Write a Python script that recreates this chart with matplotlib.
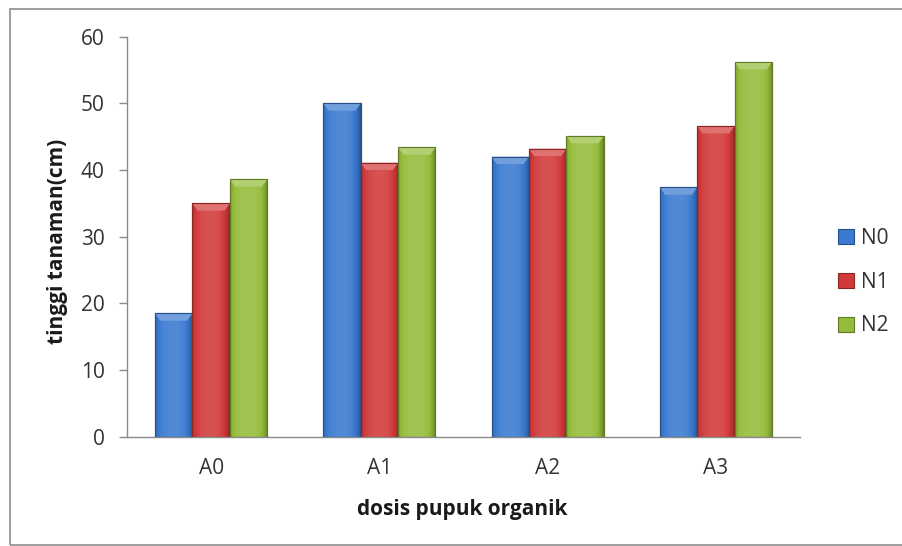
import numpy as np
import matplotlib
matplotlib.use("Agg")
import matplotlib.pyplot as plt
from matplotlib.patches import Rectangle, Polygon
from matplotlib.colors import to_rgb

categories = ["A0", "A1", "A2", "A3"]
series_names = ["N0", "N1", "N2"]
N0 = [18.5, 50.0, 42.0, 37.4]
N1 = [35.0, 41.1, 43.2, 46.6]
N2 = [38.6, 43.4, 45.1, 56.2]
yticks = [0, 10, 20, 30, 40, 50, 60]
ylabel = "tinggi tanaman(cm)"
xlabel = "dosis pupuk organik"

colors = ["#3A7AD0", "#D23A3A", "#94BC3A"]

plt.rcParams['font.family'] = ['Open Sans', 'DejaVu Sans']

fig = plt.figure(figsize=(9.02, 5.46), dpi=100)
ax = fig.add_axes([127/902, 1-436.7/546, (800-127)/902, 400/546])

x = np.arange(len(categories))
nser = 3
bw = 1.0 / (nser + 1.5)
data = [N0, N1, N2]

def shade(c, f):
    r = np.array(to_rgb(c))
    if f >= 0:
        return tuple(r + (1 - r) * f)
    return tuple(r * (1 + f))

for i, (vals, col) in enumerate(zip(data, colors)):
    offs = (i - (nser - 1) / 2) * bw
    bars = ax.bar(x + offs, vals, width=bw, color=col, edgecolor=shade(col, -0.35),
                  linewidth=0.8, label=series_names[i], zorder=2)
    n = 64
    t = np.linspace(0, 1, n)
    prof = 0.12 * np.sin(np.pi * t) ** 0.7 - 0.22 * (np.abs(t - 0.45) * 2) ** 4
    img = np.zeros((1, n, 3))
    for k, p in enumerate(prof):
        img[0, k] = shade(col, p)
    for b in bars:
        x0, w, h = b.get_x(), b.get_width(), b.get_height()
        im = ax.imshow(img, extent=[x0, x0 + w, 0, h], aspect='auto',
                       interpolation='bicubic', zorder=2.5)
        im.set_clip_path(b)
        d = w * 0.14
        tt = 1.1
        poly = Polygon([[x0, h], [x0 + w, h], [x0 + w - d, h - tt], [x0 + d, h - tt]],
                       closed=True, facecolor=shade(col, 0.28), edgecolor='none',
                       zorder=3)
        ax.add_patch(poly)
        ax.add_patch(Rectangle((x0, 0), w, h, fill=False,
                               edgecolor=shade(col, -0.35), linewidth=0.8, zorder=3.5))

ax.set_xlim(-0.5, len(categories) - 0.5)
ax.set_ylim(0, 60)
ax.set_yticks(yticks)
ax.set_yticklabels([str(v) for v in yticks], fontsize=15, color='#333333')
ax.set_xticks(x)
ax.set_xticklabels(categories, fontsize=15, color='#333333')
ax.tick_params(axis='x', length=0, pad=15)
ax.tick_params(axis='y', length=6, color='#8a8a8a', width=1, pad=10)
for s in ['top', 'right']:
    ax.spines[s].set_visible(False)
for s in ['left', 'bottom']:
    ax.spines[s].set_color('#8a8a8a')
    ax.spines[s].set_linewidth(1)

fig.text(58/902, 1-241/546, ylabel, rotation=90, fontsize=15, fontweight='bold',
         ha='center', va='center', color='#1a1a1a')
fig.text(462/902, 1-509/546, xlabel, fontsize=15, fontweight='bold',
         ha='center', va='center', color='#1a1a1a')

leg = ax.legend(loc='center left', bbox_to_anchor=(838/902, 1-282/546),
                bbox_transform=fig.transFigure, frameon=False, fontsize=15,
                handlelength=0.75, handleheight=0.75, handletextpad=0.35,
                labelspacing=1.1, borderaxespad=0, borderpad=0)
for t in leg.get_texts():
    t.set_color('#333333')

fig.patches.append(Rectangle((10/902, 1-545/546), 1.0, 536/546, transform=fig.transFigure,
                             fill=False, edgecolor='#8c8c8c', linewidth=1.2))

fig.savefig("out.png", dpi=100)
